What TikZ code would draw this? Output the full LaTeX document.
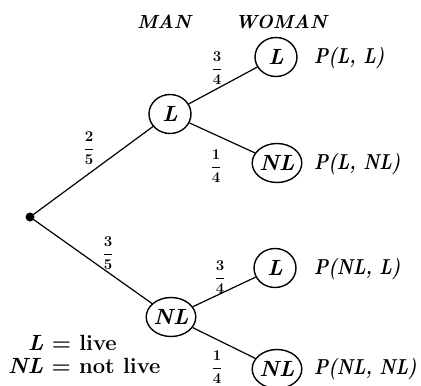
\RequirePackage{fix-cm}
\documentclass[tikz,border=0pt]{standalone}
\usepackage{fontspec}
\usetikzlibrary{shapes.geometric}
\newcommand{\plab}[1]{\scalebox{1}[1.2]{\bfseries\itshape #1}}
\begin{document}
\begin{tikzpicture}[x=1pt,y=-1pt,
  st/.style={ellipse,draw,line width=1.4pt,inner sep=0pt,minimum width=42pt,minimum height=39pt,
    font=\fontsize{22}{24}\selectfont\bfseries\itshape},
  br/.style={line width=1.2pt},
  hd/.style={font=\fontsize{19}{21}\selectfont\bfseries\itshape},
  pr/.style={anchor=west,inner sep=0pt,font=\fontsize{18}{20}\selectfont\bfseries\itshape},
  fr/.style={inner sep=0pt,font=\fontsize{15}{17}\selectfont\boldmath},
  lg/.style={anchor=base west,inner sep=0pt,font=\fontsize{22}{24}\selectfont\bfseries}]
\useasboundingbox (0,0) rectangle (421,386);
\fill (30,217) circle (4.5pt) coordinate (root);
\node[st] (mL) at (170,114) {L};
\node[st] (mNL) at (171,317) {NL};
\node[st] (wLL) at (276,57) {L};
\node[st] (wLN) at (277,163) {NL};
\node[st] (wNL) at (275,268) {L};
\node[st] (wNN) at (277,369) {NL};
\draw[br] (root) -- (mL);
\draw[br] (root) -- (mNL);
\draw[br] (mL) -- (wLL);
\draw[br] (mL) -- (wLN);
\draw[br] (mNL) -- (wNL);
\draw[br] (mNL) -- (wNN);
\node[hd] (man) at (164,22) {MAN};
\node[hd] (woman) at (281,22) {WOMAN};
\node[pr] (p1) at (314,58) {\plab{P(L, L)}};
\node[pr] (p2) at (314,164) {\plab{P(L, NL)}};
\node[pr] (p3) at (314,269) {\plab{P(NL, L)}};
\node[pr] (p4) at (314,369) {\plab{P(NL, NL)}};
\node[fr] (f1) at (89,148) {$\displaystyle\frac{2}{5}$};
\node[fr] (f2) at (217,68) {$\displaystyle\frac{3}{4}$};
\node[fr] (f3) at (216,166) {$\displaystyle\frac{1}{4}$};
\node[fr] (f4) at (108,253) {$\displaystyle\frac{3}{5}$};
\node[fr] (f5) at (220,277) {$\displaystyle\frac{3}{4}$};
\node[fr] (f6) at (217,367) {$\displaystyle\frac{1}{4}$};
\node[lg] (lg1) at (28,350) {\textit{L} = live};
\node[lg] (lg2) at (8,373) {\textit{NL} = not live};
\end{tikzpicture}
\end{document}
